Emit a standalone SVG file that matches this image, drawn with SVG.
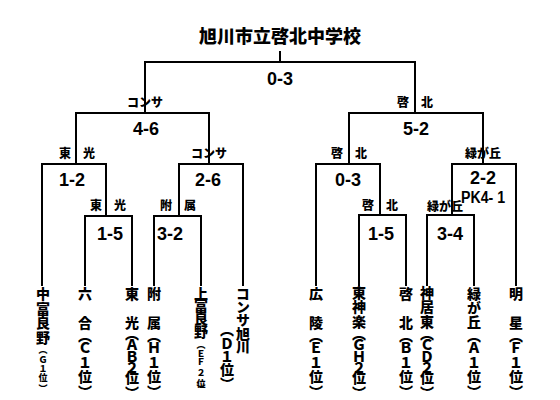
<svg xmlns="http://www.w3.org/2000/svg" width="560" height="400" viewBox="0 0 560 400">
<style>
.ln{stroke:#000;stroke-width:2;fill:none;stroke-linecap:square}
.title{font-family:"Noto Sans CJK JP","Noto Sans CJK SC",sans-serif;font-weight:900;font-size:18px;text-anchor:middle}
.lab{font-family:"Noto Sans CJK JP","Noto Sans CJK SC",sans-serif;font-weight:900;font-size:12px;text-anchor:middle}
.sc{font-family:"Liberation Sans",Arial,sans-serif;font-weight:bold;font-size:18px;text-anchor:middle}
.pk{font-size:16px}
.vt{font-family:"Noto Sans CJK JP","Noto Sans CJK SC",sans-serif;font-weight:900;font-size:14px;writing-mode:vertical-rl;text-orientation:upright;text-anchor:middle}
.sm{font-size:9px}
</style>
<rect width="560" height="400" fill="#fff"/>
<g id="connectors">
<path class="ln" d="M280 52V62M145 62H415M145 62V113M415 62V113"/>
<path class="ln" d="M76 113H209M76 113V164M209 113V164M349 113H483M349 113V164M483 113V164"/>
<path class="ln" d="M42 164H106M42 164V285M106 164V216M85 216H132M85 216V285M132 216V285"/>
<path class="ln" d="M179 164H243M179 164V216M243 164V285M154 216H201M154 216V285M201 216V285"/>
<path class="ln" d="M316 164H380M316 164V285M380 164V215M359 215H406M359 215V285M406 215V285"/>
<path class="ln" d="M452 164H516M452 164V215M516 164V285M427 215H474M427 215V285M474 215V285"/>
</g>
<g id="title"><text class="title" x="280" y="43">旭川市立啓北中学校</text></g>
<g id="labels">
<text class="sc" x="280" y="85">0-3</text>
<text class="lab" x="145" y="107">コンサ</text>
<text class="lab" x="415" y="107">啓　北</text>
<text class="sc" x="146" y="135">4-6</text>
<text class="sc" x="416" y="135">5-2</text>
<text class="lab" x="77" y="158">東　光</text>
<text class="lab" x="209" y="158">コンサ</text>
<text class="lab" x="349" y="158">啓　北</text>
<text class="lab" x="483" y="158">緑が丘</text>
<text class="sc" x="72" y="186">1-2</text>
<text class="sc" x="208" y="186">2-6</text>
<text class="sc" x="348" y="186">0-3</text>
<text class="sc" x="483" y="184">2-2</text>
<text class="sc pk" x="483" y="203" textLength="44" lengthAdjust="spacingAndGlyphs">PK4- 1</text>
<text class="lab" x="108" y="210">東　光</text>
<text class="lab" x="178" y="210">附　属</text>
<text class="lab" x="380" y="210">啓　北</text>
<text class="lab" x="445" y="211">緑が丘</text>
<text class="sc" x="110" y="240">1-5</text>
<text class="sc" x="170" y="240">3-2</text>
<text class="sc" x="381" y="240">1-5</text>
<text class="sc" x="450" y="240">3-4</text>
</g>
<g id="team-nakafurano"><text class="vt" x="43" y="294 309 323 338">中富良野<tspan class="sm" y="350 360 369 378 389">（Ｇ１位）</tspan></text></g>
<g id="team-rokugo"><text class="vt" x="85" y="294 308 323 336 348 363 377 392">六　合（Ｃ１位）</text></g>
<g id="team-toko"><text class="vt" x="132" y="294 308 323 334 345 357 368 378 393">東　光（ＡＢ２位）</text></g>
<g id="team-fuzoku"><text class="vt" x="154" y="294 308 323 336 348 363 377 392">附　属（Ｈ１位）</text></g>
<g id="team-kamifurano"><text class="vt" x="201" y="294 306 319 332">上富良野<tspan class="sm" y="345 354 362 373 384 389">（ＥＦ２位）</tspan></text></g>
<g id="team-consa"><text class="vt" x="243" y="294 307 320 334 347">コンサ旭川</text><text class="vt" x="227" y="330 344 357 370 384">（Ｄ１位）</text></g>
<g id="team-koryo"><text class="vt" x="316" y="294 308 323 336 348 363 377 392">広　陵（Ｅ１位）</text></g>
<g id="team-higashikagura"><text class="vt" x="359" y="293 307 322 334 345 357 368 378 393">東神楽（ＧＨ２位）</text></g>
<g id="team-keihoku"><text class="vt" x="406" y="294 308 323 336 348 363 377 392">啓　北（Ｂ１位）</text></g>
<g id="team-kamuitou"><text class="vt" x="427" y="293 307 322 334 345 357 368 378 393">神居東（ＣＤ２位）</text></g>
<g id="team-midorigaoka"><text class="vt" x="474" y="294 308 322 336 348 363 377 392">緑が丘（Ａ１位）</text></g>
<g id="team-meisei"><text class="vt" x="516" y="294 308 323 336 348 363 377 392">明　星（Ｆ１位）</text></g>
</svg>
